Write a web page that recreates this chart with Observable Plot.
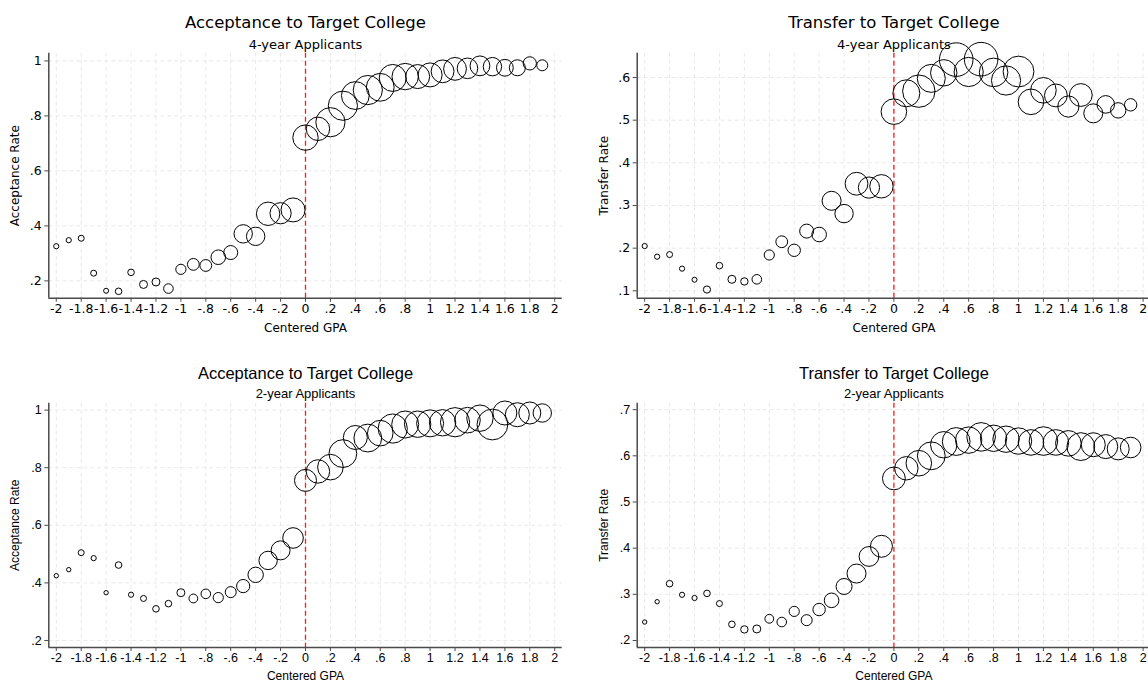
<!DOCTYPE html>
<html><head><meta charset="utf-8">
<script src="https://cdn.jsdelivr.net/npm/d3@7"></script>
<script src="https://cdn.jsdelivr.net/npm/@observablehq/plot@0.6"></script>
<style>
html,body{margin:0;padding:0;background:#fff;}
#root{position:relative;width:1148px;height:682px;overflow:hidden;background:#fff;}
.panel{position:absolute;}
</style></head><body><div id="root"></div>
<script>
// ---- data ----
const gpa = [-2,-1.9,-1.8,-1.7,-1.6,-1.5,-1.4,-1.3,-1.2,-1.1,-1,-0.9,-0.8,-0.7,-0.6,-0.5,-0.4,-0.3,-0.2,-0.1,0,0.1,0.2,0.3,0.4,0.5,0.6,0.7,0.8,0.9,1,1.1,1.2,1.3,1.4,1.5,1.6,1.7,1.8,1.9];
const xTicks = [-2,-1.8,-1.6,-1.4,-1.2,-1,-0.8,-0.6,-0.4,-0.2,0,0.2,0.4,0.6,0.8,1,1.2,1.4,1.6,1.8,2];
const cutoff = [0];

const accept4 = [0.326,0.348,0.355,0.228,0.164,0.162,0.231,0.187,0.196,0.172,0.242,0.260,0.256,0.286,0.303,0.371,0.362,0.444,0.446,0.458,0.721,0.753,0.777,0.837,0.874,0.894,0.904,0.938,0.943,0.943,0.949,0.962,0.971,0.973,0.982,0.979,0.975,0.975,0.991,0.984];
const accept4N = [68,68,90,90,63,109,109,160,160,230,260,348,348,533,490,846,846,1369,1124,1440,1613,1369,2132,2132,1932,2132,1932,1823,1742,1440,1440,1300,1300,1061,980,846,706,640,436,303];
const accept4Ticks = [0.2,0.4,0.6,0.8,1];

const transfer4 = [0.205,0.180,0.185,0.152,0.126,0.103,0.159,0.127,0.122,0.127,0.184,0.215,0.195,0.240,0.232,0.311,0.281,0.351,0.342,0.345,0.520,0.563,0.568,0.598,0.611,0.642,0.613,0.643,0.612,0.593,0.614,0.543,0.570,0.558,0.532,0.559,0.516,0.537,0.523,0.536];
const transfer4N = [68,68,90,68,63,130,109,160,137,230,260,348,384,490,533,903,846,1300,1124,1369,1638,1823,2624,1960,1742,2822,2132,2822,2045,2132,2372,1638,1638,1300,1124,1300,903,774,593,384];
const transfer4Ticks = [0.1,0.2,0.3,0.4,0.5,0.6];

const accept2 = [0.425,0.446,0.505,0.486,0.366,0.462,0.359,0.346,0.310,0.328,0.366,0.346,0.362,0.349,0.368,0.389,0.428,0.478,0.513,0.556,0.756,0.787,0.802,0.849,0.905,0.903,0.920,0.936,0.950,0.951,0.954,0.956,0.958,0.965,0.972,0.950,0.990,0.984,0.990,0.990];
const accept2N = [48,48,90,68,48,109,68,90,109,109,160,194,230,260,303,436,593,846,903,1061,1210,1369,1638,1932,1440,1932,1638,2132,1823,1742,1823,1742,2132,1638,1742,2372,1440,1440,1210,846];
const accept2Ticks = [0.2,0.4,0.6,0.8,1];

const transfer2 = [0.240,0.284,0.323,0.299,0.292,0.302,0.280,0.235,0.224,0.225,0.247,0.240,0.263,0.244,0.267,0.287,0.317,0.345,0.382,0.404,0.551,0.573,0.584,0.600,0.624,0.631,0.634,0.641,0.638,0.636,0.632,0.629,0.632,0.629,0.627,0.620,0.624,0.620,0.615,0.618];
const transfer2N = [48,48,109,68,68,109,90,109,137,160,194,230,260,303,384,533,640,903,980,1210,1300,1369,1638,1932,1742,1932,1742,2045,1742,1742,1742,1638,2045,1638,1638,1932,1440,1440,1210,1061];
const transfer2Ticks = [0.2,0.3,0.4,0.5,0.6,0.7];

// ---- helpers ----
const fmt = v => String(Math.round(v * 10) / 10).replace(/^(-?)0\./, "$1.");
const xDomain = [-2.06, 2.06];

function panel(o) {
  const data = gpa.map((g, i) => ({g, v: o.y[i], n: o.n[i]}));
  const axisCol = "#4a4a4a";
  const gridCol = "#e9e9e9";
  const txt = {fill: "#000", textAnchor: "middle", lineAnchor: "middle"};
  const svg = Plot.plot({
    width: o.width, height: 341,
    marginLeft: o.ml, marginRight: o.mr, marginTop: o.mt, marginBottom: o.mb,
    style: {fontFamily: o.font, fontSize: o.tickSize + "px", color: "#000", background: "transparent", overflow: "visible"},
    x: {domain: xDomain, axis: null},
    y: {domain: o.yDomain, axis: null},
    r: {type: "sqrt", domain: [0, 3000], range: [0, 17.32]},
    marks: [
      Plot.gridX(xTicks, {stroke: gridCol, strokeOpacity: 1, strokeDasharray: "4,3"}),
      Plot.gridY(o.yTicks, {stroke: gridCol, strokeOpacity: 1, strokeDasharray: "4,3"}),
      Plot.axisX({ticks: xTicks, tickFormat: fmt, tickSize: 4, tickPadding: 2, stroke: axisCol, label: null, fontSize: o.tickSize}),
      Plot.axisY({ticks: o.yTicks, tickFormat: fmt, tickSize: 4, tickPadding: 3, stroke: axisCol, label: null, fontSize: o.tickSize}),
      Plot.ruleX(cutoff, {stroke: "#ff1a1a", strokeWidth: 1.3, strokeDasharray: "5,3"}),
      Plot.dot(data, {x: "g", y: "v", r: "n", stroke: "#000", fill: "none", strokeWidth: 1}),
      Plot.ruleY([o.yDomain[0]], {stroke: axisCol, strokeWidth: 1.5}),
      Plot.ruleX([xDomain[0]], {stroke: axisCol, strokeWidth: 1.5}),
      Plot.text([o.title], {...txt, frameAnchor: "top", dy: o.titleDy, fontSize: o.titleSize}),
      Plot.text([o.subtitle], {...txt, frameAnchor: "top", dy: o.subDy, fontSize: o.subSize}),
      Plot.text(["Centered GPA"], {...txt, frameAnchor: "bottom", dy: o.xlabDy, fontSize: o.labelSize}),
      Plot.text([o.ylabel], {...txt, frameAnchor: "left", dx: -33.3, rotate: -90, fontSize: o.labelSize})
    ]
  });
  svg.classList.add("panel");
  svg.style.left = o.left + "px";
  svg.style.top = o.top + "px";
  document.getElementById("root").appendChild(svg);
}

const topFont = "DejaVu Sans";
const botFont = "Liberation Sans";

panel({left: 0, top: 0, width: 574, ml: 48.3, mr: 12.3, mt: 52.7, mb: 43.3,
  yDomain: [0.137, 1.028], yTicks: accept4Ticks, y: accept4, n: accept4N,
  title: "Acceptance to Target College", subtitle: "4-year Applicants", ylabel: "Acceptance Rate",
  font: topFont, titleSize: 16.5, subSize: 13, tickSize: 12.5, labelSize: 12,
  titleDy: -30, subDy: -8.4, xlabDy: 29.6});

panel({left: 574, top: 0, width: 580, ml: 62.7, mr: 3.9, mt: 52.7, mb: 43.3,
  yDomain: [0.0827, 0.657], yTicks: transfer4Ticks, y: transfer4, n: transfer4N,
  title: "Transfer to Target College", subtitle: "4-year Applicants", ylabel: "Transfer Rate",
  font: topFont, titleSize: 16.5, subSize: 13, tickSize: 12.5, labelSize: 12,
  titleDy: -30, subDy: -8.4, xlabDy: 29.6});

panel({left: 0, top: 341, width: 574, ml: 48.3, mr: 12.3, mt: 61.7, mb: 35,
  yDomain: [0.1757, 1.024], yTicks: accept2Ticks, y: accept2, n: accept2N,
  title: "Acceptance to Target College", subtitle: "2-year Applicants", ylabel: "Acceptance Rate",
  font: botFont, titleSize: 16.5, subSize: 13, tickSize: 12.5, labelSize: 12,
  titleDy: -29.4, subDy: -9, xlabDy: 29});

panel({left: 574, top: 341, width: 580, ml: 62.7, mr: 3.9, mt: 61.7, mb: 35,
  yDomain: [0.1848, 0.714], yTicks: transfer2Ticks, y: transfer2, n: transfer2N,
  title: "Transfer to Target College", subtitle: "2-year Applicants", ylabel: "Transfer Rate",
  font: botFont, titleSize: 16.5, subSize: 13, tickSize: 12.5, labelSize: 12,
  titleDy: -29.4, subDy: -9, xlabDy: 29});
</script>
</body></html>
